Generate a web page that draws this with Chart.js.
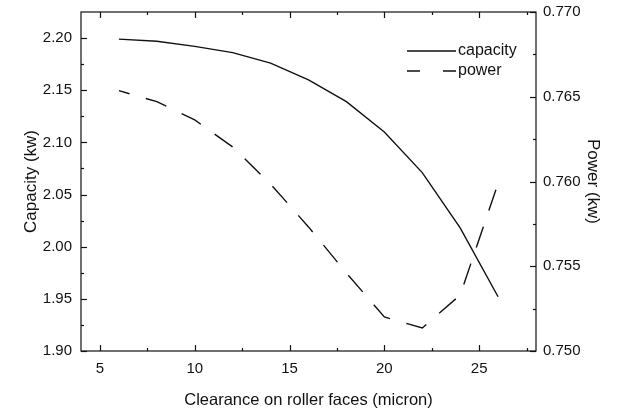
<!DOCTYPE html>
<html>
<head>
<meta charset="utf-8">
<script src="https://cdn.jsdelivr.net/npm/chart.js@4"></script>
<style>
  body { margin: 0; background: #fff; }
  canvas { display: block; }
</style>
</head>
<body>
<canvas id="chart" width="618" height="414"></canvas>
<script>
// --- Data ---
const clearance = [6, 8, 10, 12, 14, 16, 18, 20, 22, 24, 26];
const capacity = [2.199, 2.197, 2.192, 2.186, 2.176, 2.160, 2.139, 2.110, 2.071, 2.018, 1.952];
const power = [0.76536, 0.76471, 0.76363, 0.76204, 0.75985, 0.75732, 0.75460, 0.75201, 0.75136, 0.75330, 0.75989];

const xTicks = [5, 10, 15, 20, 25];
const xMinor = [7.5, 12.5, 17.5, 22.5, 27.5];
const capTicks = [1.90, 1.95, 2.00, 2.05, 2.10, 2.15, 2.20];
const capMinor = [1.925, 1.975, 2.025, 2.075, 2.125, 2.175];
const powTicks = [0.750, 0.755, 0.760, 0.765, 0.770];
const powMinor = [0.7525, 0.7575, 0.7625, 0.7675];

const INK = '#111';
const FONT = "'Liberation Sans', Arial, sans-serif";

// inward tick marks on all four sides + box frame
const frameTicks = {
    id: 'frameTicks',
    afterDatasetsDraw(chart) {
        const { ctx, chartArea: a, scales } = chart;
        ctx.save();
        ctx.strokeStyle = INK;
        ctx.lineWidth = 1.2;
        ctx.strokeRect(a.left, a.top, a.right - a.left, a.bottom - a.top);

        const vert = (vals, len) => vals.forEach(v => {
            const px = Math.round(scales.x.getPixelForValue(v)) + 0.5;
            ctx.beginPath();
            ctx.moveTo(px, a.bottom); ctx.lineTo(px, a.bottom - len);
            ctx.moveTo(px, a.top); ctx.lineTo(px, a.top + len);
            ctx.stroke();
        });
        const horiz = (scale, vals, len, side) => vals.forEach(v => {
            const py = Math.round(scale.getPixelForValue(v)) + 0.5;
            ctx.beginPath();
            if (side === 'left') { ctx.moveTo(a.left, py); ctx.lineTo(a.left + len, py); }
            else { ctx.moveTo(a.right, py); ctx.lineTo(a.right - len, py); }
            ctx.stroke();
        });
        vert(xTicks, 6);
        vert(xMinor, 3);
        horiz(scales.yCap, capTicks, 6, 'left');
        horiz(scales.yCap, capMinor, 3, 'left');
        horiz(scales.yPow, powTicks, 6, 'right');
        horiz(scales.yPow, powMinor, 3, 'right');
        ctx.restore();
    }
};

// legend box in the upper right of the plot
const insideLegend = {
    id: 'insideLegend',
    afterDraw(chart) {
        const { ctx, chartArea: a } = chart;
        const x0 = a.right - 129, x1 = a.right - 80;
        const rows = [
            { label: 'capacity', y: a.top + 39, dash: [] },
            { label: 'power', y: a.top + 59, dash: [13, 23] }
        ];
        ctx.save();
        ctx.strokeStyle = INK;
        ctx.fillStyle = INK;
        ctx.lineWidth = 1.3;
        ctx.font = '16px ' + FONT;
        ctx.textBaseline = 'middle';
        rows.forEach(r => {
            ctx.setLineDash(r.dash);
            ctx.beginPath();
            ctx.moveTo(x0, r.y); ctx.lineTo(x1, r.y);
            ctx.stroke();
            ctx.fillText(r.label, x1 + 2, r.y);
        });
        ctx.restore();
    }
};

const fixTicks = vals => scale => { scale.ticks = vals.map(v => ({ value: v })); };
// pin axis box sizes so the plot area lands where it does in the reference
const fitY = w => s => { s.width = w; s.paddingTop = 0; s.paddingBottom = 0; };

new Chart(document.getElementById('chart'), {
    type: 'line',
    data: {
        labels: clearance,
        datasets: [{
            label: 'capacity',
            data: clearance.map((x, i) => ({ x, y: capacity[i] })),
            yAxisID: 'yCap',
            borderColor: INK,
            borderWidth: 1.4,
            pointRadius: 0,
            tension: 0,
            fill: false
        }, {
            label: 'power',
            data: clearance.map((x, i) => ({ x, y: power[i] })),
            yAxisID: 'yPow',
            borderColor: INK,
            borderWidth: 1.4,
            borderDash: [22, 17],
            borderDashOffset: 11,
            pointRadius: 0,
            tension: 0,
            fill: false
        }]
    },
    options: {
        responsive: false,
        animation: false,
        layout: { padding: { top: 12, left: 0, right: 0, bottom: 0 } },
        plugins: { legend: { display: false }, tooltip: { enabled: false } },
        scales: {
            x: {
                type: 'linear',
                min: 4, max: 28,
                afterBuildTicks: fixTicks(xTicks),
                afterFit: s => { s.height = 63; s.paddingLeft = 0; s.paddingRight = 0; },
                grid: { display: false, drawTicks: false },
                border: { display: false },
                ticks: { color: INK, padding: 9, font: { family: FONT, size: 15 }, maxRotation: 0 },
                title: {
                    display: true,
                    text: 'Clearance on roller faces (micron)',
                    color: INK,
                    font: { family: FONT, size: 16.5 },
                    padding: { top: 0, bottom: 4 }
                }
            },
            yCap: {
                type: 'linear',
                position: 'left',
                min: 1.90, max: 2.225,
                afterBuildTicks: fixTicks(capTicks),
                afterFit: fitY(81),
                grid: { display: false, drawTicks: false },
                border: { display: false },
                ticks: { color: INK, padding: 9, font: { family: FONT, size: 15 }, callback: v => v.toFixed(2) },
                title: {
                    display: true,
                    text: 'Capacity (kw)',
                    color: INK,
                    font: { family: FONT, size: 17 },
                    padding: { top: 21, bottom: 0 }
                }
            },
            yPow: {
                type: 'linear',
                position: 'right',
                min: 0.750, max: 0.770,
                afterBuildTicks: fixTicks(powTicks),
                afterFit: fitY(82),
                grid: { display: false, drawTicks: false },
                border: { display: false },
                ticks: { color: INK, padding: 7, font: { family: FONT, size: 15 }, callback: v => v.toFixed(3) },
                title: {
                    display: true,
                    text: 'Power (kw)',
                    color: INK,
                    font: { family: FONT, size: 17 },
                    padding: { top: 15, bottom: 0 }
                }
            }
        }
    },
    plugins: [frameTicks, insideLegend]
});
</script>
</body>
</html>
